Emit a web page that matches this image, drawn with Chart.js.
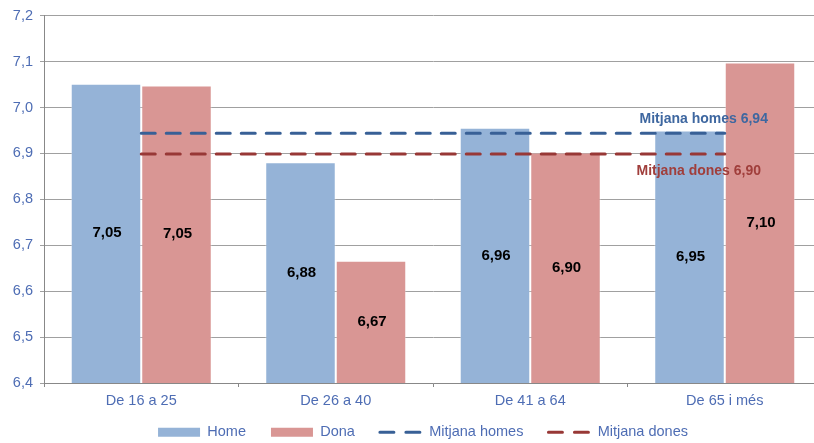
<!DOCTYPE html>
<html>
<head>
<meta charset="utf-8">
<script src="https://cdn.jsdelivr.net/npm/chart.js@4.4.0/dist/chart.umd.min.js"></script>
<style>
  html, body { margin: 0; padding: 0; background: #fff; overflow: hidden; }
  #wrap { position: absolute; left: 0; top: 0; width: 846px; height: 443px; }
</style>
</head>
<body>
<div id="wrap"><canvas id="chart"></canvas></div>
<script>
const categories = ['De 16 a 25', 'De 26 a 40', 'De 41 a 64', 'De 65 i més'];
const homeValues = [7.052, 6.881, 6.956, 6.950];
const donaValues = [7.048, 6.666, 6.902, 7.098];
const meanHomes = 6.944;
const meanDones = 6.899;
const yMin = 6.4, yMax = 7.2, yStep = 0.1;

const axisBlue = '#4e6db4';
const font = '"Liberation Sans", Arial, sans-serif';
const fmt = (v, d) => v.toFixed(d).replace('.', ',');

// value labels in the middle of each bar, plus the two mean captions
const barLabels = {
  id: 'barLabels',
  afterLayout(chart) {
    // pull the legend row up a bit (the x labels need their full box) and centre it on the page
    chart.legend.top -= 10;
    chart.legend.left += 12;
    chart.legend.right += 12;
  },
  afterDatasetsDraw(chart) {
    const ctx = chart.ctx;
    const xs = chart.scales.x, ys = chart.scales.y;
    const base = ys.getPixelForValue(yMin);
    ctx.save();
    ctx.font = 'bold 15px ' + font;
    ctx.fillStyle = '#000';
    ctx.textAlign = 'center';
    ctx.textBaseline = 'middle';
    [0, 1].forEach(i => {
      const meta = chart.getDatasetMeta(i);
      chart.data.datasets[i].data.forEach((v, j) => {
        const x = meta.data[j].x;
        ctx.fillText(fmt(v, 2), x + 1, (ys.getPixelForValue(v) + base) / 2);
      });
    });
    const xLast = xs.getPixelForValue(categories.length - 1);
    ctx.font = 'bold 14px ' + font;
    ctx.fillStyle = '#3e67a0';
    ctx.fillText('Mitjana homes ' + fmt(meanHomes, 2), xLast - 21, ys.getPixelForValue(meanHomes) - 14);
    ctx.fillStyle = '#a03e3b';
    ctx.fillText('Mitjana dones ' + fmt(meanDones, 2), xLast - 26, ys.getPixelForValue(meanDones) + 17);
    ctx.restore();
  }
};

new Chart(document.getElementById('chart'), {
  type: 'bar',
  data: {
    labels: categories,
    datasets: [
      {
        label: 'Home',
        data: homeValues,
        backgroundColor: '#95b3d7',
        borderColor: 'rgba(255,255,255,0.35)',
        borderWidth: 1,
        order: 2,
      },
      {
        label: 'Dona',
        data: donaValues,
        backgroundColor: '#d99694',
        borderColor: 'rgba(255,255,255,0.35)',
        borderWidth: 1,
        order: 2,
      },
      {
        type: 'line',
        label: 'Mitjana homes',
        data: categories.map(() => meanHomes),
        borderColor: '#386096',
        backgroundColor: '#386096',
        borderWidth: 3,
        borderDash: [14, 11],
        borderCapStyle: 'round',
        pointRadius: 0,
        fill: false,
        order: 1,
      },
      {
        type: 'line',
        label: 'Mitjana dones',
        data: categories.map(() => meanDones),
        borderColor: '#983836',
        backgroundColor: '#983836',
        borderWidth: 3,
        borderDash: [14, 11],
        borderCapStyle: 'round',
        pointRadius: 0,
        fill: false,
        order: 1,
      },
    ]
  },
  options: {
    responsive: true,
    maintainAspectRatio: false,
    animation: false,
    layout: { padding: { top: 14, right: 24, left: 0, bottom: 0 } },
    datasets: { bar: { categoryPercentage: 0.725, barPercentage: 1.0 } },
    plugins: {
      tooltip: { enabled: false },
      legend: {
        position: 'bottom',
        maxHeight: 33,
        labels: {
          color: axisBlue,
          font: { size: 14.5, family: font },
          boxWidth: 42,
          boxHeight: 9,
          usePointStyle: true,
          pointStyleWidth: 42,
          padding: 25,
          sort: (a, b) => a.datasetIndex - b.datasetIndex,
          generateLabels(chart) {
            const items = Chart.defaults.plugins.legend.labels.generateLabels(chart);
            items.forEach(it => {
              const ds = chart.data.datasets[it.datasetIndex];
              if (ds.type === 'line') {
                it.pointStyle = 'line';
                it.lineWidth = 3;
                it.lineDash = [14, 12];
                it.lineCap = 'round';
              } else {
                it.pointStyle = 'rect';
                it.lineWidth = 0;
                it.strokeStyle = ds.backgroundColor;
              }
            });
            return items;
          }
        }
      }
    },
    scales: {
      x: {
        offset: true,
        grid: { offset: true, drawOnChartArea: false, drawTicks: true, tickLength: 4, color: '#888' },
        border: { color: '#888' },
        ticks: { color: axisBlue, font: { size: 14.5, family: font }, padding: 5 },
        afterFit(scale) { scale.height = 27; }
      },
      y: {
        min: yMin,
        max: yMax,
        grid: { color: '#a0a0a0', tickLength: 4 },
        border: { color: '#888' },
        ticks: {
          stepSize: yStep,
          color: axisBlue,
          font: { size: 14.5, family: font },
          padding: 7,
          callback: v => fmt(v, 1)
        },
        afterFit(scale) { scale.width = 44; }
      }
    }
  },
  plugins: [barLabels]
});
</script>
</body>
</html>
